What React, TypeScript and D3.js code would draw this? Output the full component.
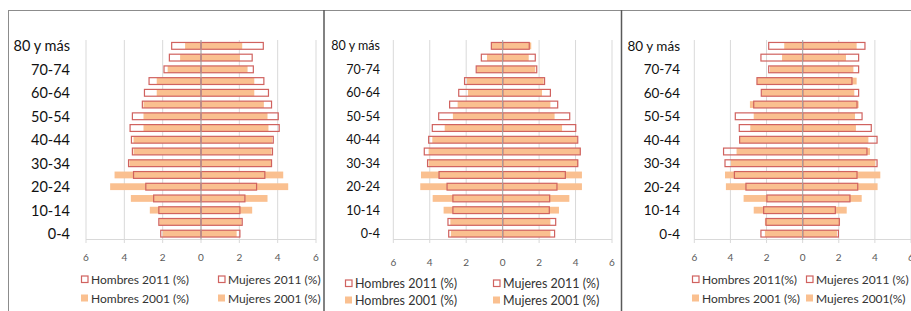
import React from 'react';
import { scaleLinear, scaleBand } from 'd3';

const ageGroups = ['0-4', '5-9', '10-14', '15-19', '20-24', '25-29', '30-34', '35-39', '40-44',
  '45-49', '50-54', '55-59', '60-64', '65-69', '70-74', '75-79', '80 y más'];
const ticks = [-6, -4, -2, 0, 2, 4, 6];

// panel 1
const hombres2011A = [2.1, 2.2, 2.2, 2.47, 2.88, 3.52, 3.78, 3.58, 3.63, 3.7, 3.58, 3.06, 2.95, 2.71, 1.93, 1.65, 1.53];
const mujeres2011A = [2.03, 2.15, 2.03, 2.29, 2.9, 3.33, 3.68, 3.73, 3.77, 4.08, 4.03, 3.68, 3.52, 3.28, 2.73, 2.67, 3.25];
const hombres2001A = [2.0, 2.17, 2.67, 3.66, 4.74, 4.51, 3.73, 3.52, 3.52, 3.0, 3.0, 3.0, 2.31, 2.31, 1.74, 1.09, 0.83];
const mujeres2001A = [1.86, 2.12, 2.67, 3.47, 4.55, 4.29, 3.68, 3.68, 3.72, 3.52, 3.47, 3.28, 2.78, 2.78, 2.43, 2.03, 2.15];

// panel 2
const hombres2011B = [2.96, 3.0, 2.73, 2.73, 3.05, 3.49, 4.12, 4.3, 4.06, 3.86, 3.51, 2.91, 2.41, 2.09, 1.45, 1.17, 0.62];
const mujeres2011B = [2.85, 2.91, 2.56, 2.58, 2.98, 3.44, 4.12, 4.26, 4.12, 4.01, 3.68, 3.02, 2.62, 2.3, 1.87, 1.79, 1.46];
const hombres2001B = [2.84, 2.87, 3.24, 3.84, 4.52, 4.48, 4.06, 4.06, 3.86, 3.18, 2.73, 2.47, 1.9, 1.96, 1.41, 0.86, 0.62];
const mujeres2001B = [2.62, 2.62, 3.09, 3.66, 4.35, 4.35, 4.15, 4.26, 4.08, 3.26, 2.85, 2.62, 2.16, 2.25, 1.79, 1.43, 1.57];

// panel 3
const hombres2011C = [2.31, 2.03, 2.16, 1.98, 3.14, 3.78, 4.3, 4.38, 3.49, 3.51, 3.73, 2.71, 2.29, 2.53, 1.88, 2.31, 1.88];
const mujeres2011C = [1.98, 2.03, 1.81, 2.62, 3.05, 3.01, 4.12, 3.56, 4.12, 3.8, 3.29, 3.01, 3.1, 2.73, 3.1, 3.1, 3.45];
const hombres2001C = [2.09, 2.09, 2.71, 3.27, 4.25, 4.3, 3.97, 3.66, 3.49, 2.9, 2.71, 2.92, 2.25, 2.53, 1.81, 1.14, 1.02];
const mujeres2001C = [1.9, 2.07, 2.44, 3.27, 4.15, 4.3, 4.02, 3.73, 3.64, 2.95, 2.9, 3.1, 2.86, 2.99, 2.81, 2.4, 2.99];

const legendA = ['Hombres 2011 (%)', 'Mujeres 2011 (%)', 'Hombres 2001 (%)', 'Mujeres 2001 (%)'];
const legendC = ['Hombres 2011(%)', 'Mujeres 2011 (%)', 'Hombres 2001 (%)', 'Mujeres 2001(%)'];

const ORANGE = '#FAC090';
const RED = '#D0625F';
const GRID = '#D9D9D9';
const FONT = 'Lato, "Liberation Sans", sans-serif';

const Pyramid = ({ x0, x1, labelX, labelSize, legSize, tickY, legY, legX, legend, h11, m11, h01, m01 }) => {
  const x = scaleLinear().domain([-6, 6]).range([x0, x1]);
  const y = scaleBand().domain([...ageGroups].reverse()).range([40, 239.5]).paddingInner(0.42).paddingOuter(0.21);
  const bh = y.bandwidth();
  const bar = (i, v, side) => {
    const yy = y(ageGroups[i]);
    const a = side < 0 ? x(-v) : x(0);
    return { x: a, y: yy, w: Math.abs(x(v) - x(0)), h: bh };
  };
  return (
    <g>
      {ticks.map((t) => (
        <line key={t} x1={x(t)} x2={x(t)} y1={40} y2={243} stroke={GRID} />
      ))}
      <line x1={x0} x2={x1} y1={239.5} y2={239.5} stroke={GRID} />
      {ageGroups.map((g, i) => {
        const hb = bar(i, h01[i], -1);
        const mb = bar(i, m01[i], 1);
        return (
          <g key={'o' + g}>
            <rect x={hb.x} y={hb.y} width={hb.w} height={hb.h} fill={ORANGE} />
            <rect x={mb.x} y={mb.y} width={mb.w} height={mb.h} fill={ORANGE} />
          </g>
        );
      })}
      {ageGroups.map((g, i) => {
        const hb = bar(i, h11[i], -1);
        const mb = bar(i, m11[i], 1);
        return (
          <g key={'r' + g}>
            <rect x={hb.x} y={hb.y} width={hb.w} height={hb.h} fill="none" stroke={RED} strokeWidth={1.2} />
            <rect x={mb.x} y={mb.y} width={mb.w} height={mb.h} fill="none" stroke={RED} strokeWidth={1.2} />
          </g>
        );
      })}
      <line x1={x(0)} x2={x(0)} y1={40} y2={239.5} stroke="#A6A6A6" />
      {ageGroups.map((g, i) =>
        i % 2 === 0 ? (
          <text key={'l' + g} x={labelX} y={y(g) + bh / 2} textAnchor="end" dominantBaseline="central"
            fontSize={labelSize} fill="#111" fontFamily={FONT}>{g}</text>
        ) : null
      )}
      {ticks.map((t) => (
        <text key={'t' + t} x={x(t)} y={tickY} textAnchor="middle" dominantBaseline="central"
          fontSize={10} fill="#595959" fontFamily={FONT}>{Math.abs(t)}</text>
      ))}
      {legend.map((s, i) => {
        const lx = legX[i % 2];
        const ly = legY[Math.floor(i / 2)];
        const filled = i >= 2;
        return (
          <g key={s}>
            {filled ? (
              <rect x={lx} y={ly - 3.5} width={7} height={7} fill={ORANGE} />
            ) : (
              <rect x={lx + 0.5} y={ly - 3} width={6.5} height={6.5} fill="none" stroke={RED} strokeWidth={1.2} />
            )}
            <text x={lx + 10} y={ly} dominantBaseline="central" fontSize={legSize} fill="#333" fontFamily={FONT}>{s}</text>
          </g>
        );
      })}
    </g>
  );
};

export default function App() {
  return (
    <svg width={911} height={311} style={{ position: 'absolute', left: 0, top: 0, background: '#fff' }}>
      <rect width={911} height={311} fill="#fff" />
      <Pyramid x0={86} x1={316} labelX={70} labelSize={14.5} legSize={12} tickY={257} legY={[279, 298]} legX={[81, 218]}
        legend={legendA} h11={hombres2011A} m11={mujeres2011A} h01={hombres2001A} m01={mujeres2001A} />
      <Pyramid x0={393.3} x1={612} labelX={380} labelSize={12.5} legSize={12.5} tickY={262} legY={[283, 300]} legX={[345, 493]}
        legend={legendA} h11={hombres2011B} m11={mujeres2011B} h01={hombres2001B} m01={mujeres2001B} />
      <Pyramid x0={694.3} x1={911} labelX={680} labelSize={13.5} legSize={12} tickY={257} legY={[279, 298]} legX={[692, 806]}
        legend={legendC} h11={hombres2011C} m11={mujeres2011C} h01={hombres2001C} m01={mujeres2001C} />
      <line x1={8} x2={911} y1={10.5} y2={10.5} stroke="#8c8c8c" strokeWidth={1} />
      <line x1={8.5} x2={8.5} y1={10} y2={311} stroke="#8c8c8c" strokeWidth={1} />
      <line x1={324} x2={324} y1={10} y2={311} stroke="#595959" strokeWidth={1.5} />
      <line x1={621.5} x2={621.5} y1={10} y2={311} stroke="#595959" strokeWidth={1.5} />
    </svg>
  );
}
